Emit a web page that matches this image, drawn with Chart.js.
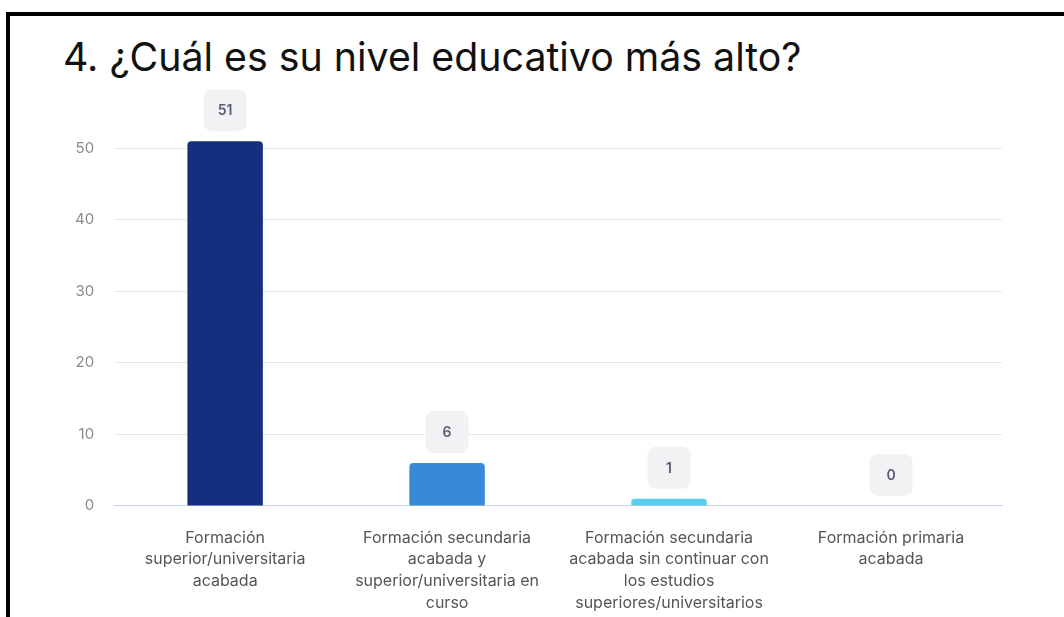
<!DOCTYPE html>
<html>
<head>
<meta charset="utf-8">
<script src="https://cdn.jsdelivr.net/npm/chart.js@4/dist/chart.umd.min.js"></script>
<style>
  html, body { margin: 0; padding: 0; background: #fff; overflow: hidden; }
  body { width: 1064px; height: 617px; position: relative; font-family: Inter, sans-serif; }
  #frame {
    position: absolute; left: 6px; top: 12px; width: 1100px; height: 700px;
    border-top: 4px solid #000; border-left: 4px solid #000;
  }
  h1 {
    position: absolute; left: 63px; top: 34px; margin: 0; line-height: 46px;
    font-family: Inter, sans-serif; font-weight: 400; font-size: 39.3px; color: #111;
  }
  #wrap { position: absolute; left: 0; top: 80px; width: 1064px; height: 555px; }
</style>
</head>
<body>
<div id="frame"></div>
<h1>4. ¿Cuál es su nivel educativo más alto?</h1>
<div id="wrap"><canvas id="chart"></canvas></div>
<script>
const categories = [
  ['Formación', 'superior/universitaria', 'acabada'],
  ['Formación secundaria', 'acabada y', 'superior/universitaria en', 'curso'],
  ['Formación secundaria', 'acabada sin continuar con', 'los estudios', 'superiores/universitarios'],
  ['Formación primaria', 'acabada']
];
const counts = [51, 6, 1, 0];
const yTicks = [0, 10, 20, 30, 40, 50];
const barColors = ['#132f7e', '#3889d8', '#5bcdef', '#a3e4f5'];

// Draw the grey rounded value boxes above each bar
const valueBoxes = {
  id: 'valueBoxes',
  afterDatasetsDraw(chart) {
    const ctx = chart.ctx;
    const meta = chart.getDatasetMeta(0);
    ctx.save();
    meta.data.forEach((bar, i) => {
      const cx = bar.x;
      const cy = bar.y - 31;
      const w = 43, h = 42;
      ctx.fillStyle = '#f1f2f3';
      ctx.beginPath();
      ctx.roundRect(cx - w / 2, cy - h / 2, w, h, 8);
      ctx.fill();
      ctx.fillStyle = '#5b5b75';
      ctx.font = '600 14px Inter, sans-serif';
      ctx.textAlign = 'center';
      ctx.textBaseline = 'middle';
      ctx.fillText(String(counts[i]), cx, cy + 1);
    });
    ctx.restore();
  }
};

const canvas = document.getElementById('chart');
new Chart(canvas, {
  type: 'bar',
  data: {
    labels: categories,
    datasets: [{
      data: counts,
      backgroundColor: barColors,
      borderRadius: { topLeft: 4, topRight: 4 },
      borderSkipped: 'bottom',
      barPercentage: 0.34,
      categoryPercentage: 1
    }]
  },
  options: {
    responsive: true,
    maintainAspectRatio: false,
    animation: false,
    layout: { padding: { top: 54, right: 62, left: 55, bottom: 0 } },
    plugins: { legend: { display: false }, tooltip: { enabled: false } },
    scales: {
      x: {
        grid: { display: false, drawTicks: false },
        border: { display: true, color: '#cdd3ec', width: 1 },
        ticks: {
          color: '#555',
          font: { family: 'Inter', size: 16, lineHeight: 1.36 },
          padding: 21,
          maxRotation: 0,
          autoSkip: false
        }
      },
      y: {
        min: 0,
        max: 52,
        afterBuildTicks: axis => { axis.ticks = yTicks.map(v => ({ value: v })); },
        grid: { color: '#e6e8ec', drawTicks: false },
        border: { display: false },
        ticks: {
          color: '#8a8a8a',
          font: { family: 'Inter', size: 15 },
          padding: 20
        }
      }
    }
  },
  plugins: [valueBoxes]
});
</script>
</body>
</html>
